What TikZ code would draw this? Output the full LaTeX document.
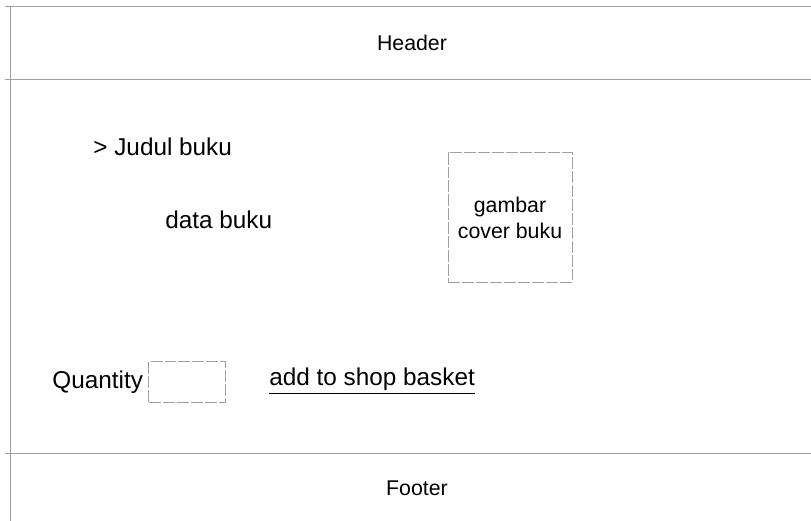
\documentclass[tikz,border=0pt]{standalone}
\usepackage{fontspec}
\setmainfont{Liberation Sans}
\usetikzlibrary{positioning}
\tikzstyle{teks} = [inner sep=0pt, font=\fontsize{12.2}{14.5}\selectfont]
\tikzstyle{kecil} = [inner sep=0pt, font=\fontsize{10.7}{13}\selectfont]
\tikzstyle{garis} = [draw=gray!75, line width=0.5pt]
\tikzstyle{kotak} = [rectangle, draw=gray!75, line width=0.5pt, dash pattern=on 6pt off 1pt, inner sep=0pt]

\begin{document}
\begin{tikzpicture}[x=0.5bp, y=-0.5bp]
  \useasboundingbox (0,0) rectangle (811,521);
  % frame of the page
  \draw [garis] (5,7) -- (811,7);
  \draw [garis] (10,7) -- (10,521);
  \draw [garis] (5,80) -- (811,80);
  \draw [garis] (5,453) -- (811,453);

  \node (header) [kecil] at (412,43) {Header};
  \node (judul) [teks, anchor=west] at (93,147) {> Judul buku};
  \node (data) [teks, anchor=west] at (165,220) {data buku};
  \node (cover) [kotak, minimum width=62bp, minimum height=64.5bp] at (510,217.5) {};
  \node (covertext) [kecil, align=center] at (cover) {gambar\\cover buku};

  \node (qty) [teks, anchor=west] at (52,382) {Quantity};
  \node (qtybox) [kotak, minimum width=38.5bp, minimum height=20.5bp, right=2.5bp of qty] {};
  \node (basket) [teks, anchor=west] at (269,381) {\underline{add to shop basket}};
  \node (footer) [kecil] at (417,488) {Footer};
\end{tikzpicture}
\end{document}
